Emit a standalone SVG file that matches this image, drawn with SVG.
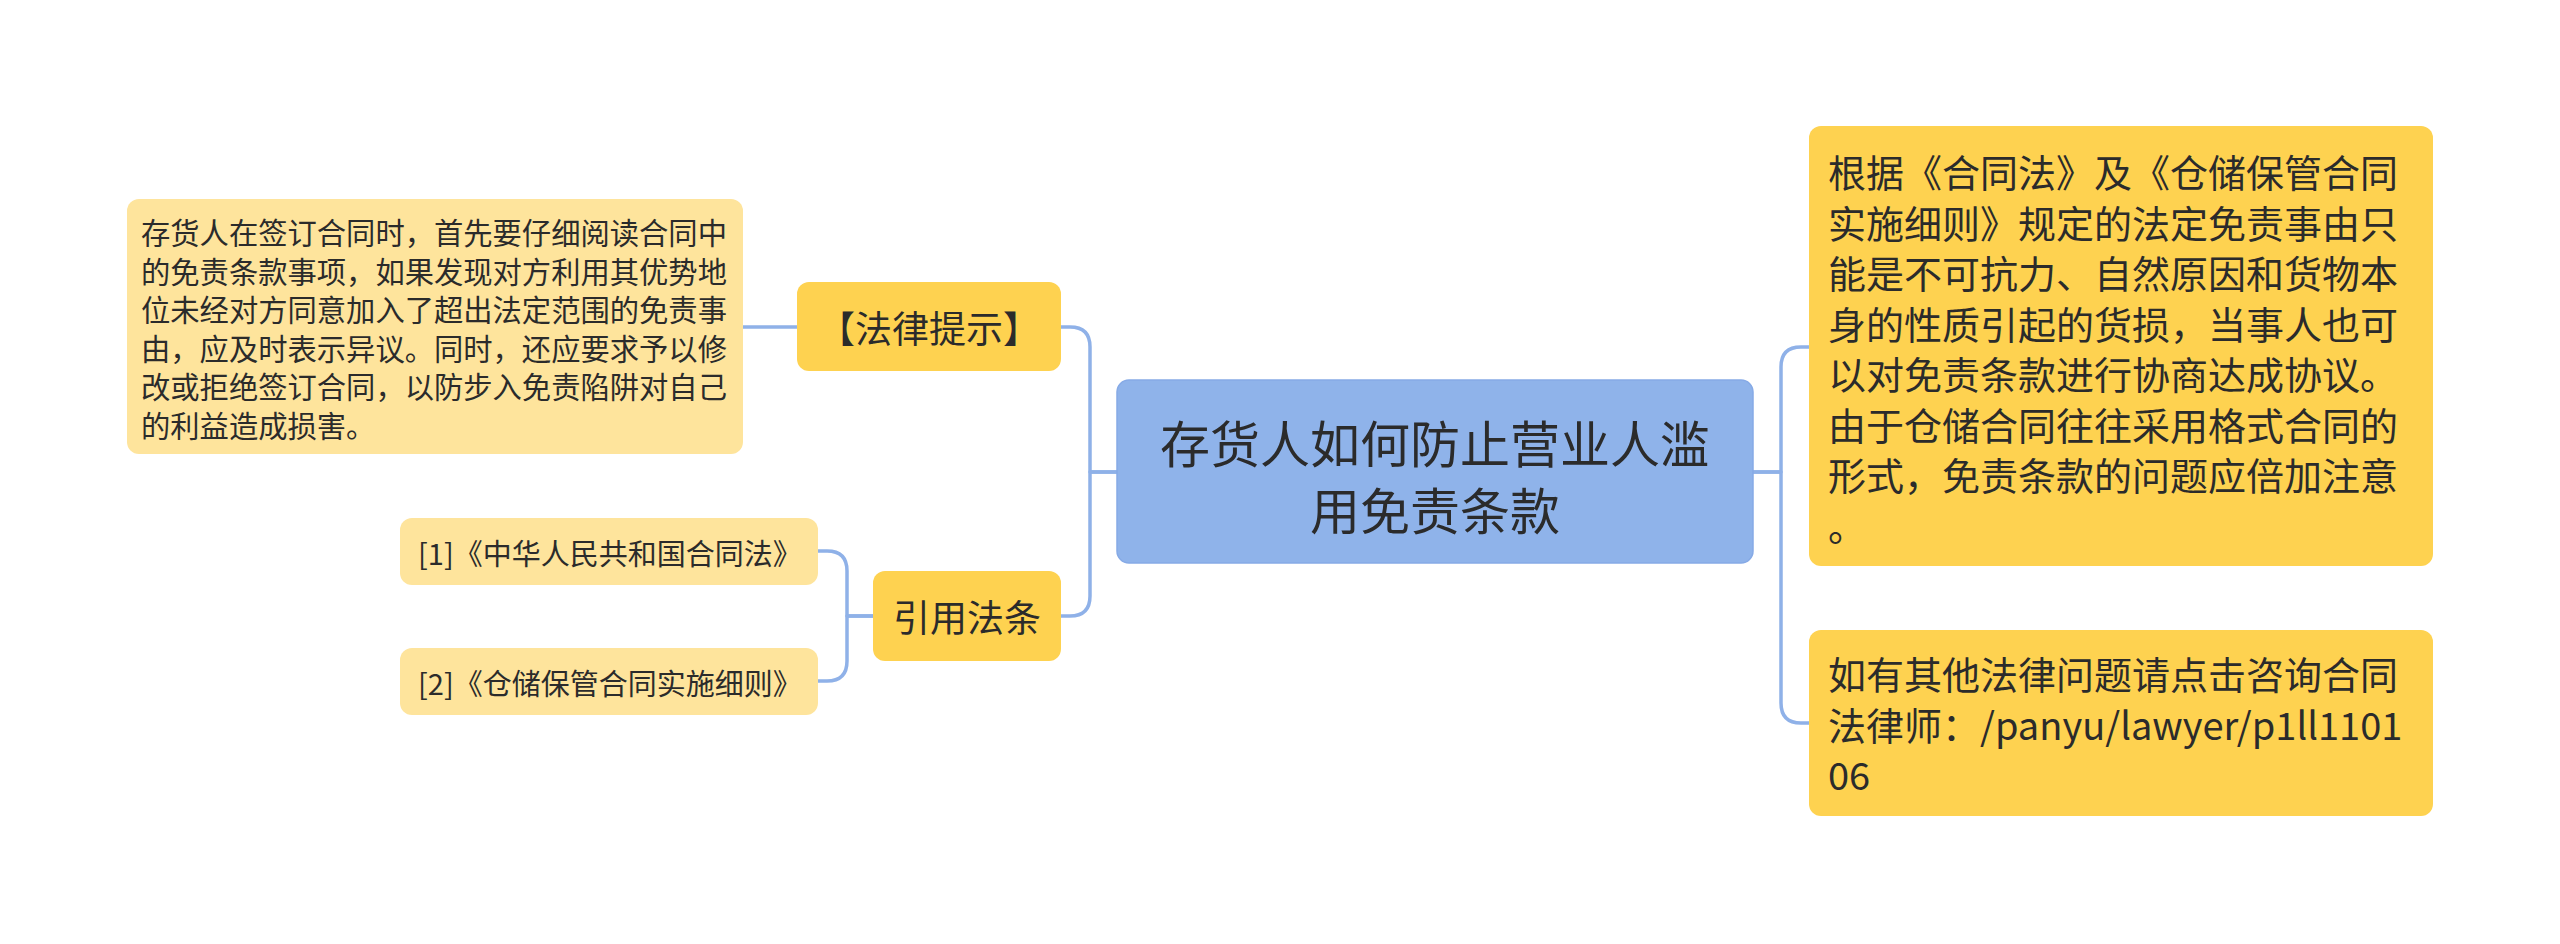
<svg xmlns="http://www.w3.org/2000/svg" width="2560" height="944" viewBox="0 0 2560 944">
<style>
.t{font-family:"Noto Sans CJK SC","Noto Sans",sans-serif;fill:#2b2b2b;dominant-baseline:central}
.c{text-anchor:middle}
.conn{fill:none;stroke:#8fb1e8;stroke-width:3.5;stroke-linecap:round;stroke-linejoin:round}
.root{fill:#8fb3ea;stroke:#86aae6;stroke-width:1.5}
.gold{fill:#fed250}
.light{fill:#fee49c}
</style>
<rect width="2560" height="944" fill="#ffffff"/>
<g id="connectors">
<path class="conn" d="M1117,472 H1090 V347 Q1090,327 1070,327 H1061"/>
<path class="conn" d="M1117,472 H1090 V596 Q1090,616 1070,616 H1061"/>
<path class="conn" d="M1753,472 H1781 V367 Q1781,347 1801,347 H1809"/>
<path class="conn" d="M1753,472 H1781 V703 Q1781,723 1801,723 H1809"/>
<path class="conn" d="M797,327 H743"/>
<path class="conn" d="M873,616 H847 V571 Q847,551 827,551 H818"/>
<path class="conn" d="M873,616 H847 V661 Q847,681 827,681 H818"/>
</g>
<g id="root">
<rect class="root" x="1117" y="380" width="636" height="183" rx="12"/>
<text class="t c" x="1435" y="441" font-size="50">存货人如何防止营业人滥</text>
<text class="t c" x="1435" y="508" font-size="50">用免责条款</text>
</g>
<g id="legal-tip">
<rect class="gold" x="797" y="282" width="264" height="89" rx="12"/>
<text class="t c" x="929" y="327" font-size="37">【法律提示】</text>
</g>
<g id="legal-tip-detail">
<rect class="light" x="127" y="199" width="616" height="255" rx="12"/>
<text class="t" x="141" font-size="29.3">
<tspan x="141" y="231">存货人在签订合同时，首先要仔细阅读合同中</tspan>
<tspan x="141" y="269.5">的免责条款事项，如果发现对方利用其优势地</tspan>
<tspan x="141" y="308">位未经对方同意加入了超出法定范围的免责事</tspan>
<tspan x="141" y="346.5">由，应及时表示异议。同时，还应要求予以修</tspan>
<tspan x="141" y="385">改或拒绝签订合同，以防步入免责陷阱对自己</tspan>
<tspan x="141" y="423.5">的利益造成损害。</tspan>
</text>
</g>
<g id="cited-laws">
<rect class="gold" x="873" y="571" width="188" height="90" rx="12"/>
<text class="t c" x="967" y="616" font-size="37">引用法条</text>
</g>
<g id="law-1">
<rect class="light" x="400" y="518" width="418" height="67" rx="12"/>
<text class="t" x="418" y="552" font-size="29">[1]《中华人民共和国合同法》</text>
</g>
<g id="law-2">
<rect class="light" x="400" y="648" width="418" height="67" rx="12"/>
<text class="t" x="418" y="682" font-size="29">[2]《仓储保管合同实施细则》</text>
</g>
<g id="exemption-info">
<rect class="gold" x="1809" y="126" width="624" height="440" rx="12"/>
<text class="t" font-size="38">
<tspan x="1828" y="170">根据《合同法》及《仓储保管合同</tspan>
<tspan x="1828" y="220.5">实施细则》规定的法定免责事由只</tspan>
<tspan x="1828" y="271">能是不可抗力、自然原因和货物本</tspan>
<tspan x="1828" y="321.5">身的性质引起的货损，当事人也可</tspan>
<tspan x="1828" y="372">以对免责条款进行协商达成协议。</tspan>
<tspan x="1828" y="422.5">由于仓储合同往往采用格式合同的</tspan>
<tspan x="1828" y="473">形式，免责条款的问题应倍加注意</tspan>
<tspan x="1828" y="523.5">。</tspan>
</text>
</g>
<g id="consult">
<rect class="gold" x="1809" y="630" width="624" height="186" rx="12"/>
<text class="t" font-size="38">
<tspan x="1828" y="672">如有其他法律问题请点击咨询合同</tspan>
<tspan x="1828" y="722.5">法律师：/panyu/lawyer/p1ll1101</tspan>
<tspan x="1828" y="773">06</tspan>
</text>
</g>
</svg>
